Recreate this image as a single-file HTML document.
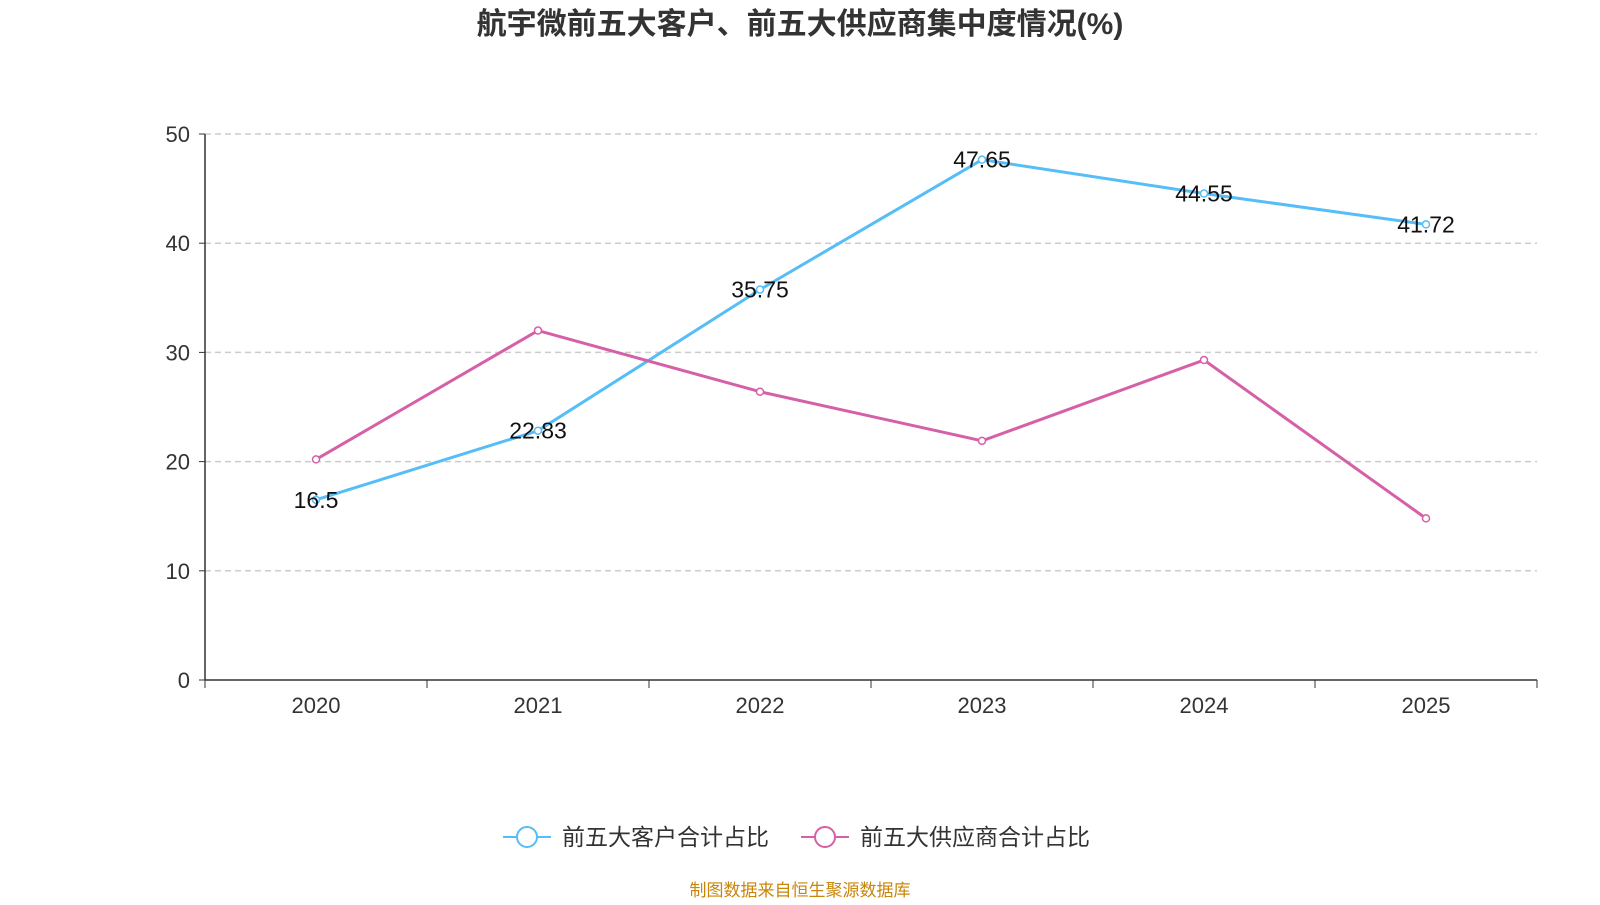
<!DOCTYPE html>
<html><head><meta charset="utf-8"><style>
body{margin:0;background:#fff;font-family:"Liberation Sans","Noto Sans CJK SC",sans-serif;}
</style></head><body>
<svg id="chart" width="1600" height="900" xmlns="http://www.w3.org/2000/svg" style="font-family:'Liberation Sans','Noto Sans CJK SC',sans-serif"></svg>
<script>
const categories=["2020","2021","2022","2023","2024","2025"];
const customerValues=[16.5,22.83,35.75,47.65,44.55,41.72];
const supplierValues=[20.2,32.0,26.4,21.9,29.3,14.8];
const yTicks=[0,10,20,30,40,50];
const seriesNames=["前五大客户合计占比","前五大供应商合计占比"];
const NS="http://www.w3.org/2000/svg";
const svg=document.getElementById('chart');
const L=205,R=1537,T=134,B=680,yMax=50;
const band=(R-L)/categories.length;
function xs(i){return L+band*(i+0.5);}
function ys(v){return B-(v/yMax)*(B-T);}
function mk(tag,attrs,parent){const e=document.createElementNS(NS,tag);for(const k in attrs)e.setAttribute(k,attrs[k]);(parent||svg).appendChild(e);return e;}
let t=mk('text',{x:800,y:34,'text-anchor':'middle','font-size':30,'font-weight':'bold',fill:'#333'});
t.textContent="航宇微前五大客户、前五大供应商集中度情况(%)";


yTicks.forEach(v=>{
 const y=ys(v);
 if(v>0){const g=mk('line',{x1:L,x2:R,y1:y,y2:y,stroke:'#ccc','stroke-dasharray':'6,4','stroke-width':1.5});
 
 }
 mk('line',{x1:L-6,x2:L,y1:y,y2:y,stroke:'#333'});
 const l=mk('text',{x:L-15,y:y+8,'text-anchor':'end','font-size':22,fill:'#333'});l.textContent=v;
 
 
});
let ax=mk('line',{x1:L,x2:L,y1:T,y2:B,stroke:'#333','stroke-width':1.5});


let xa=mk('line',{x1:L,x2:R,y1:B,y2:B,stroke:'#333','stroke-width':1.5});


for(let i=0;i<=categories.length;i++){mk('line',{x1:L+band*i,x2:L+band*i,y1:B,y2:B+8,stroke:'#333'});}
categories.forEach((c,i)=>{const l=mk('text',{x:xs(i),y:B+33,'text-anchor':'middle','font-size':22,fill:'#333'});l.textContent=c;
 
 });
function series(vals,color,name,labels){
 const p=mk('polyline',{points:vals.map((v,i)=>xs(i)+','+ys(v)).join(' '),fill:'none',stroke:color,'stroke-width':3});
 
 
 vals.forEach((v,i)=>{const c=mk('circle',{cx:xs(i),cy:ys(v),r:3.5,fill:'#fff',stroke:color,'stroke-width':1.5});
  
  
  if(labels){const l=mk('text',{x:xs(i),y:ys(v)+8,'text-anchor':'middle','font-size':23,fill:'#111'});l.textContent=v;
  
  }});
}
series(customerValues,'#56bdf7','customer',true);
series(supplierValues,'#d660a8','supplier',false);
[[527,'#56bdf7',0],[825,'#d660a8',1]].forEach(([x,c,k])=>{
 const g=mk('g',{});
 
 
 mk('line',{x1:x-24,x2:x+24,y1:837,y2:837,stroke:c,'stroke-width':2},g);
 mk('circle',{cx:x,cy:837,r:10,fill:'#fff',stroke:c,'stroke-width':2},g);
 const l=mk('text',{x:x+35,y:845,'font-size':23,fill:'#333'},g);l.textContent=seriesNames[k];
});
let s=mk('text',{x:800,y:896,'text-anchor':'middle','font-size':17,fill:'#c8860a'});s.textContent="制图数据来自恒生聚源数据库";


</script>
</body></html>
